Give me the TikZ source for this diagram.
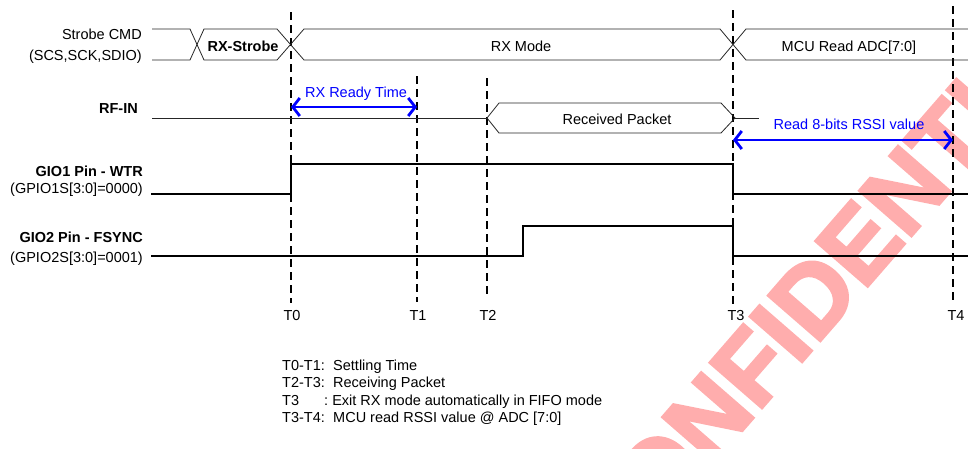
\documentclass[tikz,border=0pt]{standalone}
\usepackage{fontspec}
\setmainfont{Liberation Sans}
\newfontfamily\wmfont[FakeBold=3]{Liberation Sans Bold}
\usetikzlibrary{arrows.meta}
\begin{document}
\begin{tikzpicture}[x=1pt,y=-1pt,
  lbl/.style={font=\fontsize{14.5}{16}\selectfont, inner sep=0pt},
  blbl/.style={lbl, font=\fontsize{14.5}{16}\selectfont\bfseries},
  bluelbl/.style={lbl, text=blue},
  bus/.style={line width=0.8pt, black!85},
  sig/.style={line width=2.4pt, line join=miter, line cap=rect},
  tline/.style={line width=1.7pt, dash pattern=on 8pt off 5pt},
  barrow/.style={blue, line width=2.8pt,
    {Straight Barb[length=7pt,width=18pt,line width=2.8pt]}-{Straight Barb[length=7pt,width=18pt,line width=2.8pt]}},
  wmark/.style={text=red!32, font=\fontsize{100}{104}\wmfont, inner sep=0pt}
]
\useasboundingbox (0,0) rectangle (968,448);

% ---- watermark (underneath) ----
\begin{scope}
\clip (0,0) rectangle (968,448);
\node[wmark, rotate=49] (wm) at (830,277) {CONFIDENTIAL};
\end{scope}

% ---- left labels ----
\node[lbl, anchor=base east] (strobecmd) at (142,39.5) {Strobe CMD};
\node[lbl, anchor=base east] (strobesig) at (142,60) {(SCS,SCK,SDIO)};
\node[blbl, anchor=base east] (rfin) at (138,113) {RF-IN};
\node[blbl, anchor=base east] (gio1) at (143,176) {GIO1 Pin - WTR};
\node[lbl, anchor=base east] (gio1s) at (143,193) {(GPIO1S[3:0]=0000)};
\node[blbl, anchor=base east] (gio2) at (143,242) {GIO2 Pin - FSYNC};
\node[lbl, anchor=base east] (gio2s) at (143,262) {(GPIO2S[3:0]=0001)};

% ---- time marker lines ----
\coordinate (T0a) at (291,12);  \coordinate (T0b) at (291,303);
\coordinate (T1a) at (417,76);  \coordinate (T1b) at (417,302);
\coordinate (T2a) at (487,78);  \coordinate (T2b) at (487,295);
\coordinate (T3a) at (733,10);  \coordinate (T3b) at (733,305);
\coordinate (T4a) at (953,6);   \coordinate (T4b) at (953,300);
\foreach \t in {T0,T1,T2,T3,T4} \draw[tline] (\t a) -- (\t b);
\node[lbl, anchor=base] (t0lbl) at (292,320.5) {T0};
\node[lbl, anchor=base] (t1lbl) at (418,320.5) {T1};
\node[lbl, anchor=base] (t2lbl) at (488,320.5) {T2};
\node[lbl, anchor=base] (t3lbl) at (736,320.5) {T3};
\node[lbl, anchor=base] (t4lbl) at (956,320.5) {T4};

% ---- Strobe CMD bus ----
\draw[bus] (152,29) -- (190,29) -- (204,60) -- (277,60) -- (304,29) -- (720,29) -- (746,60) -- (968,60);
\draw[bus] (152,60) -- (190,60) -- (204,29) -- (277,29) -- (304,60) -- (720,60) -- (746,29) -- (968,29);
\node[blbl, anchor=base] (rxstrobe) at (243,51.5) {RX-Strobe};
\node[lbl, anchor=base] (rxmode) at (521,51.5) {RX Mode};
\node[lbl, anchor=base] (mcuread) at (849,51.5) {MCU Read ADC[7:0]};

% ---- RF-IN ----
\draw[bus] (152,118) -- (487,118);
\draw[bus] (487,118) -- (499,103) -- (721,103) -- (735,118) -- (721,133) -- (499,133) -- cycle;
\draw[bus] (735,118) -- (759,118);
\node[lbl, anchor=base] (rxpkt) at (617,124) {Received Packet};

% ---- blue arrows ----
\draw[barrow] (T0a |- 0,107) coordinate (ra) -- (T1a |- 0,107) coordinate (rb);
\node[bluelbl, anchor=base] (rxready) at (356,97) {RX Ready Time};
\draw[barrow] (T3a |- 0,140) coordinate (sa) -- (T4a |- 0,140) coordinate (sb);
\node[bluelbl, anchor=base] (rssi) at (849,129) {Read 8-bits RSSI value};

% ---- GIO signals ----
\draw[sig] (152,194) -- (291,194) -- (291,164) -- (733,164) -- (733,194) -- (968,194);
\draw[sig] (152,256) -- (523,256) -- (523,226) -- (733,226) -- (733,256) -- (968,256);

% ---- notes ----
\node[lbl, anchor=base west] (n1a) at (282,370) {T0-T1:};
\node[lbl, anchor=base west] (n1b) at (333,370) {Settling Time};
\node[lbl, anchor=base west] (n2a) at (282,387.5) {T2-T3:};
\node[lbl, anchor=base west] (n2b) at (333,387.5) {Receiving Packet};
\node[lbl, anchor=base west] (n3a) at (282,405) {T3};
\node[lbl, anchor=base west] (n3b) at (324,405) {:\ Exit RX mode automatically in FIFO mode};
\node[lbl, anchor=base west] (n4a) at (282,422.7) {T3-T4:};
\node[lbl, anchor=base west] (n4b) at (333,422.7) {MCU read RSSI value @ ADC [7:0]};
\end{tikzpicture}
\end{document}
